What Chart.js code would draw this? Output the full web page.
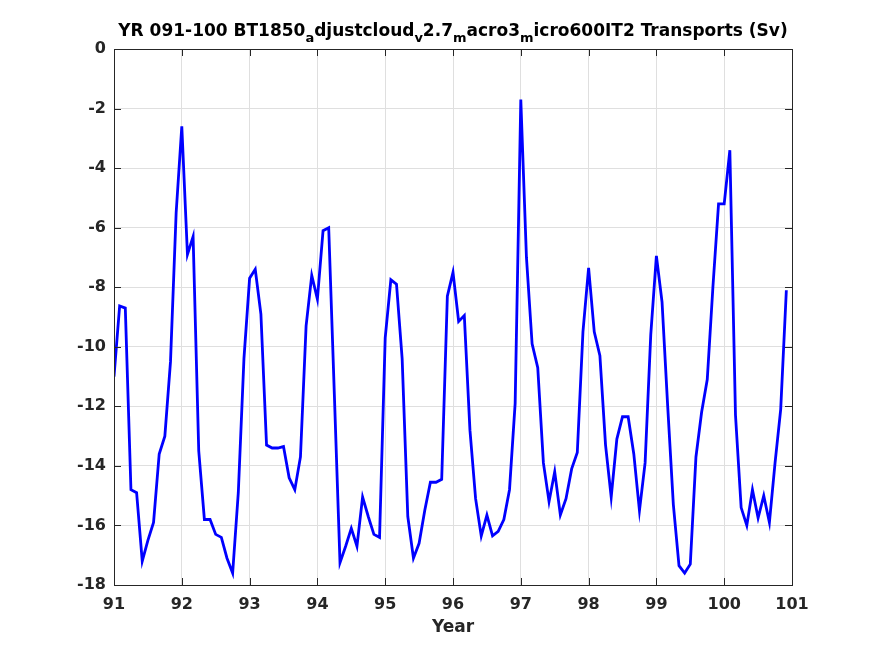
<!DOCTYPE html>
<html>
<head>
<meta charset="utf-8">
<script src="https://cdn.jsdelivr.net/npm/chart.js@4.4.1/dist/chart.umd.min.js"></script>
<style>
  html, body { margin: 0; padding: 0; background: #fff; }
  #wrap { width: 875px; height: 656px; }
</style>
</head>
<body>
<div id="wrap"><canvas id="transportChart" width="875" height="656"></canvas></div>
<script>
// monthly transports (Sv), model years 91-100
var startYear = 91;
var transport = [
  -11.0, -8.63, -8.7, -14.8, -14.9, -17.2, -16.5, -15.9, -13.6, -13.0, -10.5, -5.5,
  -2.6, -6.9, -6.3, -13.5, -15.8, -15.8, -16.3, -16.4, -17.1, -17.6, -14.9, -10.4,
  -7.7, -7.4, -8.9, -13.3, -13.4, -13.4, -13.35, -14.4, -14.8, -13.7, -9.3, -7.6,
  -8.4, -6.1, -6.0, -11.6, -17.25, -16.7, -16.1, -16.7, -15.05, -15.7, -16.3, -16.4,
  -9.7, -7.75, -7.9, -10.4, -15.7, -17.1, -16.6, -15.5, -14.55, -14.55, -14.45, -8.3,
  -7.5, -9.15, -8.95, -12.8, -15.1, -16.35, -15.65, -16.35, -16.2, -15.8, -14.8, -11.9,
  -1.7, -7.0, -9.9, -10.7, -13.9, -15.2, -14.2, -15.65, -15.1, -14.1, -13.55, -9.5,
  -7.35, -9.5, -10.3, -13.3, -15.05, -13.1, -12.35, -12.35, -13.6, -15.5, -13.9, -9.6,
  -6.95, -8.5, -12.0, -15.3, -17.35, -17.6, -17.3, -13.7, -12.2, -11.1, -8.0, -5.2,
  -5.2, -3.4, -12.3, -15.4, -16.0, -14.8, -15.75, -15.0, -15.9, -13.9, -12.1, -8.1
];
var xTicks = [91, 92, 93, 94, 95, 96, 97, 98, 99, 100, 101];
var yTicks = [-18, -16, -14, -12, -10, -8, -6, -4, -2, 0];

// title pieces: [text, isSubscript]
var titleParts = [
  ['YR 091-100 BT1850', false], ['a', true], ['djustcloud', false], ['v', true],
  ['2.7', false], ['m', true], ['acro3', false], ['m', true],
  ['icro600IT2 Transports (Sv)', false]
];

var axisColor = '#262626';
var gridColor = '#dfdfdf';
var font = '"DejaVu Sans", "Liberation Sans", sans-serif';

var points = transport.map(function(v, i) {
  return { x: startYear + i / 12, y: v };
});

// MATLAB look: box, inward ticks, title with subscripts
var matlabAxes = {
  id: 'matlabAxes',
  afterDraw: function(chart) {
    var ctx = chart.ctx, a = chart.chartArea;
    var xs = chart.scales.x, ys = chart.scales.y;
    ctx.save();
    ctx.strokeStyle = axisColor;
    ctx.lineWidth = 1;
    ctx.strokeRect(Math.round(a.left) + 0.5, Math.round(a.top) + 0.5,
                   Math.round(a.right - a.left), Math.round(a.bottom - a.top));
    ctx.beginPath();
    xTicks.forEach(function(t) {
      var px = Math.round(xs.getPixelForValue(t)) + 0.5;
      ctx.moveTo(px, a.bottom); ctx.lineTo(px, a.bottom - 7);
      ctx.moveTo(px, a.top); ctx.lineTo(px, a.top + 7);
    });
    yTicks.forEach(function(t) {
      var py = Math.round(ys.getPixelForValue(t)) + 0.5;
      ctx.moveTo(a.left, py); ctx.lineTo(a.left + 7, py);
      ctx.moveTo(a.right, py); ctx.lineTo(a.right - 7, py);
    });
    ctx.stroke();

    var mainFont = 'bold 17px ' + font, subFont = 'bold 13px ' + font;
    var total = 0;
    titleParts.forEach(function(p) {
      ctx.font = p[1] ? subFont : mainFont;
      total += ctx.measureText(p[0]).width;
    });
    var cx = (a.left + a.right) / 2 - total / 2;
    var base = 36;
    ctx.fillStyle = '#000';
    ctx.textBaseline = 'alphabetic';
    ctx.textAlign = 'left';
    titleParts.forEach(function(p) {
      ctx.font = p[1] ? subFont : mainFont;
      ctx.fillText(p[0], cx, p[1] ? base + 6 : base);
      cx += ctx.measureText(p[0]).width;
    });
    ctx.restore();
  }
};

new Chart(document.getElementById('transportChart'), {
  type: 'line',
  data: {
    datasets: [{
      data: points,
      borderColor: '#0000ff',
      borderWidth: 2.8,
      pointRadius: 0,
      tension: 0,
      fill: false
    }]
  },
  options: {
    responsive: false,
    animation: false,
    events: [],
    layout: { padding: { left: 0, right: 83, top: 49, bottom: 18 } },
    plugins: { legend: { display: false }, tooltip: { enabled: false } },
    scales: {
      x: {
        type: 'linear',
        min: 91, max: 101,
        afterFit: function(s) { s.height = 53; },
        afterBuildTicks: function(s) { s.ticks = xTicks.map(function(v) { return { value: v }; }); },
        grid: { color: gridColor, drawTicks: false },
        border: { display: false },
        ticks: { color: axisColor, padding: 10, maxRotation: 0, font: { family: font, size: 16, weight: 'bold' } },
        title: { display: true, text: 'Year', color: axisColor, padding: { top: 4, bottom: 0 },
                 font: { family: font, size: 17, weight: 'bold' } }
      },
      y: {
        min: -18, max: 0,
        afterFit: function(s) { s.width = 114; },
        afterBuildTicks: function(s) { s.ticks = yTicks.map(function(v) { return { value: v }; }); },
        grid: { color: gridColor, drawTicks: false },
        border: { display: false },
        ticks: { color: axisColor, padding: 8, font: { family: font, size: 16, weight: 'bold' } }
      }
    }
  },
  plugins: [matlabAxes]
});
</script>
</body>
</html>
